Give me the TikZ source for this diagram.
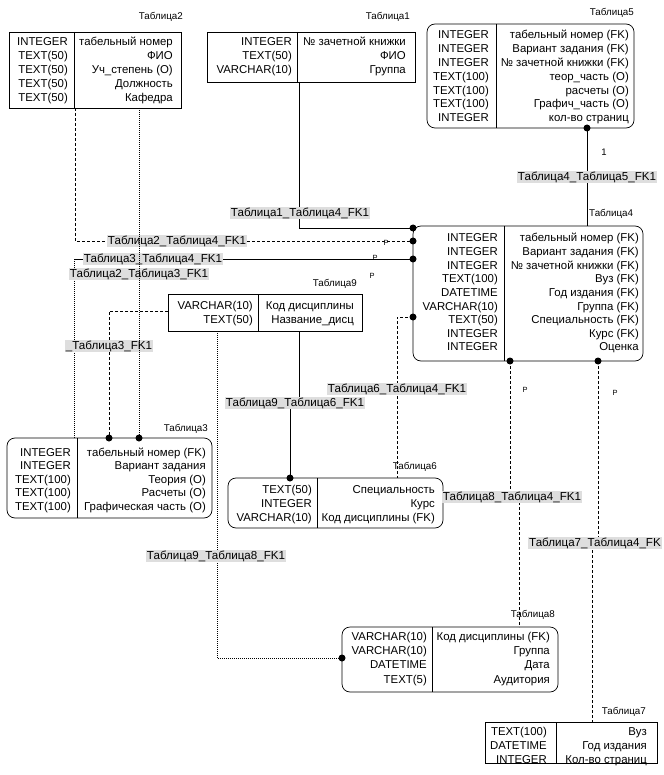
\documentclass[tikz,border=0pt]{standalone}
\usepackage{fontspec}
\setmainfont{Liberation Sans}
\tikzset{
 tbox/.style={draw, line width=0.7pt, inner sep=0pt, outer sep=0pt},
 rbox/.style={rounded corners=8pt},
 cell/.style={inner sep=0pt, anchor=base east, font=\fontsize{11.4}{13.6}\selectfont},
 tname/.style={inner sep=0pt, anchor=base east, font=\fontsize{9.8}{11}\selectfont},
 fklabel/.style={fill=black!13, inner sep=1pt, font=\fontsize{11.6}{13}\selectfont},
 pmark/.style={inner sep=0pt, font=\fontsize{7.5}{8}\selectfont},
 solidc/.style={line width=0.8pt},
 dashc/.style={line width=0.8pt, dash pattern=on 3pt off 2pt},
 dotc/.style={line width=0.6pt, dash pattern=on 0.8pt off 1.2pt},
}
\newcommand\ertable[7][]{%
 \node[tbox,#1,minimum width={(#5-#3)*1pt},minimum height={(#6-#4)*1pt}] (#2) at ({(#3+#5)/2},{(#4+#6)/2}) {};
 \draw[line width=0.7pt] (#7,#4) -- (#7,#6);
}
\newcommand\ercol[5]{%
 \foreach \cellt [count=\i] in {#5} {\node[cell] (#1\i) at ({#2},{#3+(\i-1)*#4}) {\cellt};}
}
\newcommand\dotat[1]{\fill (#1) circle (3.5);}
\begin{document}
\begin{tikzpicture}[x=1pt,y=-1pt]
\useasboundingbox (0,0) rectangle (663,775);
\fill[white] (0,0) rectangle (663,775);

% ---------- tables ----------
\ertable{t2}{9}{32}{181}{108}{74}
\ercol{t2l}{68}{46}{14}{INTEGER,TEXT(50),TEXT(50),TEXT(50),TEXT(50)}
\ercol{t2r}{173}{46}{14}{табельный номер,ФИО,Уч\_степень (О),Должность,Кафедра}
\node[tname] (n2) at (183,20) {Таблица2};

\ertable{t1}{207}{32}{415}{82}{297}
\ercol{t1l}{292}{46}{14}{INTEGER,TEXT(50),VARCHAR(10)}
\ercol{t1r}{406}{46}{14}{№ зачетной книжки,ФИО,Группа}
\node[tname] (n1) at (410,20) {Таблица1};

\ertable[rbox]{t5}{427}{24}{634}{128}{496}
\ercol{t5l}{489}{39}{13.8}{INTEGER,INTEGER,INTEGER,TEXT(100),TEXT(100),TEXT(100),INTEGER}
\ercol{t5r}{629}{39}{13.8}{табельный номер (FK),Вариант задания (FK),№ зачетной книжки (FK),теор\_часть (О),расчеты (О),Графич\_часть (О),кол-во страниц}
\node[tname] (n5) at (634,16) {Таблица5};

\ertable[rbox]{t4}{413}{226}{643}{361}{504}
\ercol{t4l}{498}{242}{13.6}{INTEGER,INTEGER,INTEGER,TEXT(100),DATETIME,VARCHAR(10),TEXT(50),INTEGER,INTEGER}
\ercol{t4r}{639}{242}{13.6}{табельный номер (FK),Вариант задания (FK),№ зачетной книжки (FK),Вуз (FK),Год издания (FK),Группа (FK),Специальность (FK),Курс (FK),Оценка}
\node[tname,anchor=base west] (n4) at (589,217) {Таблица4};

\ertable{t9}{168}{294}{362}{331}{258}
\ercol{t9l}{253}{309}{14}{VARCHAR(10),TEXT(50)}
\ercol{t9r}{354}{309}{14}{Код дисциплины,Название\_дисц}
\node[tname] (n9) at (357,286) {Таблица9};

\ertable[rbox]{t3}{7}{438}{212}{518}{77}
\ercol{t3l}{71}{456}{13.5}{INTEGER,INTEGER,TEXT(100),TEXT(100),TEXT(100)}
\ercol{t3r}{206}{456}{13.5}{табельный номер (FK),Вариант задания,Теория (О),Расчеты (О),Графическая часть (О)}
\node[tname] (n3) at (208,431) {Таблица3};

\ertable[rbox]{t6}{228}{478}{443}{528}{317}
\ercol{t6l}{312}{493}{14}{TEXT(50),INTEGER,VARCHAR(10)}
\ercol{t6r}{435}{493}{14}{Специальность,Курс,Код дисциплины (FK)}
\node[tname] (n6) at (437,469) {Таблица6};

\ertable[rbox]{t8}{342}{627}{558}{692}{432}
\ercol{t8l}{427}{640}{14.4}{VARCHAR(10),VARCHAR(10),DATETIME,TEXT(5)}
\ercol{t8r}{550}{640}{14.4}{Код дисциплины (FK),Группа,Дата,Аудитория}
\node[tname] (n8) at (555,617) {Таблица8};

\ertable{t7}{485}{722}{657}{763}{556}
\ercol{t7l}{547}{735}{14}{TEXT(100),DATETIME,INTEGER}
\ercol{t7r}{647}{735}{14}{Вуз,Год издания,Кол-во страниц}
\node[tname] (n7) at (646,714) {Таблица7};

% ---------- connectors ----------
\coordinate (c3) at (74,259);
\draw[solidc] (t1.south -| 299,0) |- (t4.west |- 0,228);
\draw[dashc] (t2.south -| 75,0) |- (t4.west |- 0,241);
\draw[dotc] (t3.north -| c3) -- (c3);
\draw[solidc] (c3) -- (t4.west |- c3);
\draw[dashc] (t9.west |- 0,311) -| (t3.north -| 109,0);
\draw[solidc] (t9.south -| 299,0) -- (299,403) -- (290,403) -- (t6.north -| 290,0);
\draw[dashc] (t4.west |- 0,317) -| (t6.north -| 397,0);
\draw[dashc] (t4.south -| 510,0) -- (510,497) -- (519,497) -- (t8.north -| 519,0);
\draw[dashc] (t4.south -| 598,0) -- (598,543) -- (592,543) -- (t7.north -| 592,0);
\draw[dotc] (t9.south -| 217,0) |- (t8.west |- 0,658);
\draw[solidc] (t4.north -| 587,0) -- (t5.south -| 587,0);

% dots
\dotat{t4.west |- 0,228}
\dotat{t4.west |- 0,241}
\dotat{t4.west |- 0,259}
\dotat{t4.west |- 0,317}
\dotat{t4.south -| 510,0}
\dotat{t4.south -| 598,0}
\dotat{t3.north -| 109,0}
\dotat{t3.north -| 139,0}
\dotat{t6.north -| 290,0}
\dotat{t8.west |- 0,658}
\dotat{t5.south -| 587,0}

% ---------- labels ----------
\node[fklabel] (l1) at (300,213) {Таблица1\_Таблица4\_FK1};
\node[fklabel] (l2) at (177,241) {Таблица2\_Таблица4\_FK1};
\node[fklabel] (l3) at (153,259) {Таблица3\_Таблица4\_FK1};
\node[fklabel] (l4) at (139,274) {Таблица2\_Таблица3\_FK1};
\node[fklabel] (l5) at (109,346) {\_Таблица3\_FK1};
\node[fklabel] (l6) at (295,403) {Таблица9\_Таблица6\_FK1};
\node[fklabel] (l7) at (397,389) {Таблица6\_Таблица4\_FK1};
\node[fklabel] (l8) at (512,497) {Таблица8\_Таблица4\_FK1};
\node[fklabel,anchor=west] (l9) at (528,543) {Таблица7\_Таблица4\_FK};
\node[fklabel] (l10) at (216,556) {Таблица9\_Таблица8\_FK1};
\node[fklabel] (l11) at (587,177) {Таблица4\_Таблица5\_FK1};

% line drawn over labels
\draw[dotc] (t2.south -| 139,0) -- (t3.north -| 139,0);

% cardinality marks
\node[font=\fontsize{9.5}{10}\selectfont, inner sep=0pt] (one) at (604,152) {1};
\node[pmark] (p1) at (386,243) {P};
\node[pmark] (p2) at (375,258) {P};
\node[pmark] (p3) at (372,276) {P};
\node[pmark] (p4) at (525,390) {P};
\node[pmark] (p5) at (615,393) {P};
\end{tikzpicture}
\end{document}
